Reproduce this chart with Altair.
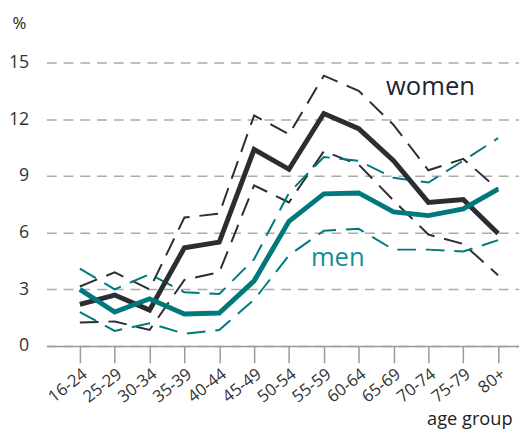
import altair as alt
import pandas as pd

ages = ["16-24", "25-29", "30-34", "35-39", "40-44", "45-49", "50-54",
        "55-59", "60-64", "65-69", "70-74", "75-79", "80+"]

women = [2.2, 2.7, 1.9, 5.2, 5.5, 10.4, 9.35, 12.3, 11.5, 9.8, 7.6, 7.75, 5.95]
women_hi = [3.15, 3.9, 3.0, 6.8, 7.0, 12.2, 11.2, 14.3, 13.5, 11.7, 9.3, 9.9, 8.3]
women_lo = [1.25, 1.3, 0.85, 3.5, 3.9, 8.5, 7.6, 10.3, 9.6, 7.7, 5.9, 5.4, 3.75]

men = [3.0, 1.8, 2.5, 1.7, 1.75, 3.45, 6.6, 8.05, 8.1, 7.1, 6.9, 7.25, 8.3]
men_hi = [4.1, 3.0, 3.8, 2.85, 2.75, 4.6, 8.1, 10.0, 9.8, 8.9, 8.65, 9.8, 11.0]
men_lo = [1.8, 0.8, 1.2, 0.65, 0.85, 2.45, 4.8, 6.1, 6.2, 5.1, 5.1, 5.0, 5.6]

y_ticks = [0, 3, 6, 9, 12, 15]

DARK = "#2b2d31"
TEAL = "#00797d"

rows = []
for series, bands in [("women", {"est": women, "hi": women_hi, "lo": women_lo}),
                      ("men", {"est": men, "hi": men_hi, "lo": men_lo})]:
    for band, vals in bands.items():
        for i, (a, v) in enumerate(zip(ages, vals)):
            rows.append({"idx": i, "age": a, "value": v, "series": series, "band": band})
df = pd.DataFrame(rows)

label_expr = "[" + ",".join(f"'{a}'" for a in ages) + "][datum.value]"

x_scale = alt.Scale(domain=[-0.96, 12.6], nice=False, zero=False)
x_axis = alt.Axis(
    values=list(range(len(ages))),
    labelExpr=label_expr,
    labelAngle=-38,
    labelFontSize=17,
    labelColor="#333333",
    labelFont="Open Sans",
    labelPadding=3,
    labelOverlap=False,
    labelFlush=False,
    labelBound=False,
    tickSize=17,
    tickColor="#9a9a9a",
    tickWidth=1.5,
    domainColor="#9a9a9a",
    domainWidth=1.5,
    grid=False,
    title="age group",
    titleFont="Open Sans",
    titleFontSize=18.5,
    titleFontWeight="normal",
    titleColor="#222222",
    titleAlign="right",
    titleBaseline="alphabetic",
    titleX=473,
    titleY=80,
    zindex=1,
)

y_scale = alt.Scale(domain=[0, 15], nice=False)
y_axis = alt.Axis(
    values=y_ticks,
    labelFontSize=18,
    labelColor="#333333",
    labelFont="Open Sans",
    labelPadding=18,
    ticks=False,
    domain=False,
    grid=True,
    gridColor="#ababab",
    gridWidth=1.5,
    gridDash=[10, 7],
    title="%",
    titleFont="Open Sans",
    titleFontSize=17,
    titleFontWeight="normal",
    titleColor="#222222",
    titleAngle=0,
    titleAlign="left",
    titleBaseline="alphabetic",
    titleX=-35,
    titleY=-35,
)

x_enc = alt.X("idx:Q", scale=x_scale, axis=x_axis)
y_enc = alt.Y("value:Q", scale=y_scale, axis=y_axis)

color = alt.Color("series:N", scale=alt.Scale(domain=["women", "men"], range=[DARK, TEAL]), legend=None)

base = alt.Chart(df)

dashed = base.transform_filter("datum.band != 'est'").mark_line(
    strokeWidth=2, strokeDash=[19, 10]
).encode(x=x_enc, y=y_enc, color=color, detail="band:N")

solid_w = base.transform_filter("datum.band == 'est' && datum.series == 'women'").mark_line(
    strokeWidth=5
).encode(x=x_enc, y=y_enc, color=color)

solid_m = base.transform_filter("datum.band == 'est' && datum.series == 'men'").mark_line(
    strokeWidth=5
).encode(x=x_enc, y=y_enc, color=color)

women_lbl = alt.Chart(pd.DataFrame({"t": ["women"]})).mark_text(
    font="Open Sans", fontSize=26, color="#1f2530", align="center", baseline="alphabetic"
).encode(
    x=alt.XDatum(10.06, type="quantitative", scale=x_scale, axis=x_axis),
    y=alt.YDatum(13.28, type="quantitative", scale=y_scale, axis=y_axis),
    text="t:N",
)

men_lbl = alt.Chart(pd.DataFrame({"t": ["men"]})).mark_text(
    font="Open Sans", fontSize=26, color="#168c98", align="center", baseline="alphabetic"
).encode(
    x=alt.XDatum(7.4, type="quantitative", scale=x_scale, axis=x_axis),
    y=alt.YDatum(4.22, type="quantitative", scale=y_scale, axis=y_axis),
    text="t:N",
)

chart = alt.layer(dashed, solid_w, solid_m, women_lbl, men_lbl).properties(
    width=480,
    height=288,
    autosize=alt.AutoSizeParams(type="none"),
    padding={"left": 39, "top": 52, "right": 0, "bottom": 86},
).configure_view(stroke=None)

chart.save("out.html", embed_options={"renderer": "svg", "actions": False})
